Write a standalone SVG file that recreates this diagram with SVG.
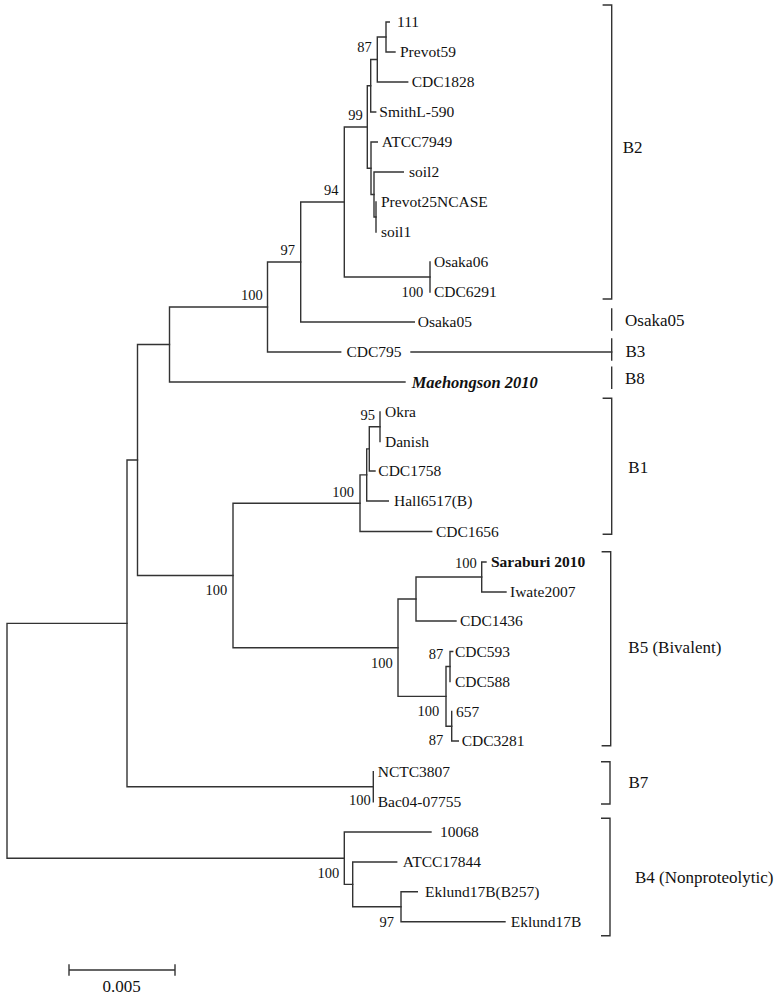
<svg xmlns="http://www.w3.org/2000/svg" width="782" height="997" viewBox="0 0 782 997">
<style>
.br{fill:none;stroke:#333;stroke-width:1.4;stroke-linecap:square}
text{font-family:"Liberation Serif","Times New Roman",serif;fill:#111}
.lf{font-size:15.5px}
.bs{font-size:14.5px;text-anchor:end}
.cl{font-size:17px}
.bold{font-weight:bold}
.bi{font-weight:bold;font-style:italic;font-size:16.5px}
</style>
<rect width="782" height="997" fill="#fff"/>
<g id="connectors" class="br">
<path d="M386,22 V52 M386,22 H389.3 M386,52 H395"/>
<path d="M377.3,37 V82 M377.3,37 H386 M377.3,82 H407.7"/>
<path d="M370.7,59.5 V112 M370.7,59.5 H377.3 M370.7,112 H375.7"/>
<path d="M376,202 V232"/>
<path d="M374,172 V217 M374,172 H403.3 M374,217 H376"/>
<path d="M371,142 V194.5 M371,142 H377.3 M371,194.5 H374"/>
<path d="M367.3,85.75 V168.25 M367.3,85.75 H370.7 M367.3,168.25 H371"/>
<path d="M430,262 V292"/>
<path d="M344.3,127 V277 H430 M344.3,127 H367.3"/>
<path d="M300.7,202 V322 H414.3 M300.7,202 H344.3"/>
<path d="M267.5,262 V352 H340.7 M267.5,262 H300.7"/>
<path d="M411,352 H611.7"/>
<path d="M169.5,307 V382 H405 M169.5,307 H267.5"/>
<path d="M380,412 V441.5"/>
<path d="M369.3,426.75 V471 H375 M369.3,426.75 H380"/>
<path d="M366.7,448.9 V501 H388.3 M366.7,448.9 H369.3"/>
<path d="M360,474.9 V531.5 H431.7 M360,474.9 H366.7"/>
<path d="M481.7,562 V592 H506 M481.7,562 H486"/>
<path d="M416,577 V621 H456 M416,577 H481.7"/>
<path d="M450,651.5 V681.5 M450,651.5 H452.7"/>
<path d="M451.7,711.5 V741 H458.3"/>
<path d="M446,666.5 V726.25 H451.7 M446,666.5 H450"/>
<path d="M398,599 V696.4 H446 M398,599 H416"/>
<path d="M233,503.2 V647.7 H398 M233,503.2 H360"/>
<path d="M137.5,344.5 V575.45 H233 M137.5,344.5 H169.5"/>
<path d="M373.3,771.7 V801.7"/>
<path d="M127,460 V786.7 H373.3 M127,460 H137.5"/>
<path d="M401,891.7 V921.7 H505 M401,891.7 H417.3"/>
<path d="M352.7,862 V906.7 H401 M352.7,862 H396.7"/>
<path d="M344.3,832 V884.35 H352.7 M344.3,832 H431"/>
<path d="M7,623.35 V858.2 H344.3 M7,623.35 H127"/>
</g>
<g id="leaves" class="lf">
<g id="n-111"><text x="397" y="27.3">111</text></g>
<g id="n-prevot59"><text x="400" y="57.3">Prevot59</text></g>
<g id="n-cdc1828"><text x="411.7" y="87.3">CDC1828</text></g>
<g id="n-smithl590"><text x="379.3" y="117.3">SmithL-590</text></g>
<g id="n-atcc7949"><text x="381.7" y="147.3">ATCC7949</text></g>
<g id="n-soil2"><text x="409" y="177.3">soil2</text></g>
<g id="n-prevot25ncase"><text x="381" y="207.3">Prevot25NCASE</text></g>
<g id="n-soil1"><text x="381" y="237.3">soil1</text></g>
<g id="n-osaka06"><text x="434" y="267.3">Osaka06</text></g>
<g id="n-cdc6291"><text x="434" y="297.3">CDC6291</text></g>
<g id="n-osaka05"><text x="417.7" y="327.3">Osaka05</text></g>
<g id="n-cdc795"><text x="346.5" y="357.3">CDC795</text></g>
<g id="n-maehongson"><text class="bi" x="411.7" y="387.5">Maehongson 2010</text></g>
<g id="n-okra"><text x="385" y="417.3">Okra</text></g>
<g id="n-danish"><text x="385" y="446.8">Danish</text></g>
<g id="n-cdc1758"><text x="378.3" y="476.3">CDC1758</text></g>
<g id="n-hall6517"><text x="394" y="506.3">Hall6517(B)</text></g>
<g id="n-cdc1656"><text x="436" y="536.8">CDC1656</text></g>
<g id="n-saraburi"><text class="bold" x="491" y="567.3">Saraburi 2010</text></g>
<g id="n-iwate2007"><text x="510" y="597.3">Iwate2007</text></g>
<g id="n-cdc1436"><text x="460" y="626.3">CDC1436</text></g>
<g id="n-cdc593"><text x="455" y="656.8">CDC593</text></g>
<g id="n-cdc588"><text x="455" y="686.8">CDC588</text></g>
<g id="n-657"><text x="456" y="716.8">657</text></g>
<g id="n-cdc3281"><text x="461.7" y="746.3">CDC3281</text></g>
<g id="n-nctc3807"><text x="377.7" y="777">NCTC3807</text></g>
<g id="n-bac04"><text x="377.7" y="807">Bac04-07755</text></g>
<g id="n-10068"><text x="440" y="837.3">10068</text></g>
<g id="n-atcc17844"><text x="402.7" y="867.3">ATCC17844</text></g>
<g id="n-eklund17bb257"><text x="425" y="897">Eklund17B(B257)</text></g>
<g id="n-eklund17b"><text x="510.7" y="927">Eklund17B</text></g>
</g>
<g id="bootstrap" class="bs">
<text x="371.7" y="52">87</text>
<text x="362.7" y="120">99</text>
<text x="338.5" y="195">94</text>
<text x="295" y="254.5">97</text>
<text x="262.7" y="300">100</text>
<text x="423.3" y="297">100</text>
<text x="375" y="419.5">95</text>
<text x="354" y="497">100</text>
<text x="476.7" y="568">100</text>
<text x="443.3" y="659">87</text>
<text x="439.3" y="716">100</text>
<text x="443.3" y="745">87</text>
<text x="392.7" y="667.5">100</text>
<text x="227.3" y="595">100</text>
<text x="370.7" y="805">100</text>
<text x="339.3" y="878">100</text>
<text x="394" y="927">97</text>
</g>
<g id="clades">
<g id="c-b2"><path class="br" d="M603.3,5 H611.7 V299 H603.3"/><text class="cl" x="622.7" y="152.5">B2</text></g>
<g id="c-osaka05"><path class="br" d="M611.7,309 V330"/><text class="cl" x="625" y="326">Osaka05</text></g>
<g id="c-b3"><path class="br" d="M611.7,339 V360"/><text class="cl" x="625.5" y="357">B3</text></g>
<g id="c-b8"><path class="br" d="M611.7,367.3 V388.3"/><text class="cl" x="625" y="384">B8</text></g>
<g id="c-b1"><path class="br" d="M603.3,398.3 H611.7 V534.3 H603.3"/><text class="cl" x="628.3" y="472.5">B1</text></g>
<g id="c-b5"><path class="br" d="M602.3,551.7 H610.7 V745.7 H602.3"/><text class="cl" x="628.3" y="652.5">B5 (Bivalent)</text></g>
<g id="c-b7"><path class="br" d="M601.7,761.7 H610 V804 H601.7"/><text class="cl" x="628.5" y="787.5">B7</text></g>
<g id="c-b4"><path class="br" d="M601.7,818.3 H610 V935.7 H601.7"/><text class="cl" x="635" y="883">B4 (Nonproteolytic)</text></g>
</g>
<g id="scale">
<path class="br" d="M69,970 H175 M69,965 V975 M175,965 V975"/>
<text class="cl" x="121.7" y="992" text-anchor="middle">0.005</text>
</g>
</svg>
